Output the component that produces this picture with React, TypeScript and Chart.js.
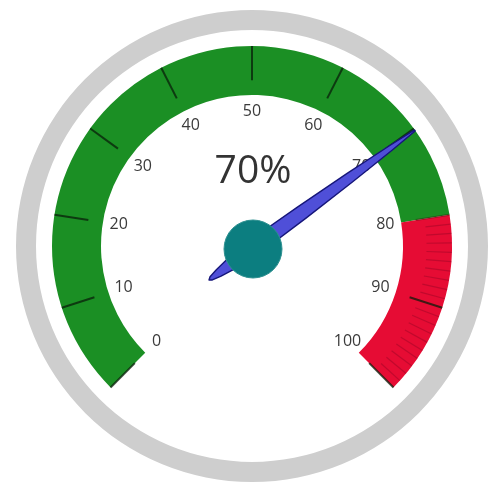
import React, { useEffect, useRef } from 'react';
import { Chart, registerables } from 'chart.js';

Chart.register(...registerables);

// ---- data ----
const RANGE_NAMES = ['Normal', 'Critical'];
const RANGE_VALUES = [80, 20];
const RANGE_COLORS = ['#1b8f24', '#e60c34'];
const GAUGE_VALUE = 70;
const VALUE_SUFFIX = '%';
const TICK_VALUES = [0, 10, 20, 30, 40, 50, 60, 70, 80, 90, 100];
const TICK_LABELS = ['0', '10', '20', '30', '40', '50', '60', '70', '80', '90', '100'];
const MINOR_STEP = 1;

export default function App() {
  const ref = useRef<HTMLCanvasElement>(null);

  useEffect(() => {
    if (!ref.current) return;
    const total = RANGE_VALUES.reduce((a, b) => a + b, 0);

    const gaugePlugin = {
      id: 'gaugeOverlay',
      afterDatasetsDraw(chart: any) {
        const meta = chart.getDatasetMeta(2);
        const arcs: any[] = meta.data;
        if (!arcs.length) return;
        const first = arcs[0];
        const cx = first.x;
        const cy = first.y;
        const rIn = first.innerRadius;
        const rOut = first.outerRadius;
        const band = rOut - rIn;
        const start = first.startAngle;
        const end = arcs[arcs.length - 1].endAngle;
        const ang = (v: number) => start + ((end - start) * v) / total;
        const ctx: CanvasRenderingContext2D = chart.ctx;
        ctx.save();

        // minor ticks (critical range)
        const critStart = RANGE_VALUES[0];
        ctx.strokeStyle = 'rgba(110,0,30,0.3)';
        ctx.lineWidth = 1.2;
        for (let v = critStart; v <= total; v += MINOR_STEP) {
          if (TICK_VALUES.includes(v)) continue;
          const a = ang(v);
          ctx.beginPath();
          ctx.moveTo(cx + Math.cos(a) * rOut, cy + Math.sin(a) * rOut);
          ctx.lineTo(cx + Math.cos(a) * (rOut - band * 0.52), cy + Math.sin(a) * (rOut - band * 0.52));
          ctx.stroke();
        }

        // major ticks
        ctx.lineWidth = 2;
        TICK_VALUES.forEach((v) => {
          const a = ang(v);
          ctx.strokeStyle = v === critStart ? 'rgba(60,10,10,0.35)' : 'rgba(10,30,10,0.75)';
          ctx.beginPath();
          ctx.moveTo(cx + Math.cos(a) * rOut, cy + Math.sin(a) * rOut);
          ctx.lineTo(cx + Math.cos(a) * (rOut - band * 0.7), cy + Math.sin(a) * (rOut - band * 0.7));
          ctx.stroke();
        });

        // labels
        ctx.fillStyle = '#3a3a3a';
        ctx.font = '16px "Open Sans", "Noto Sans", sans-serif';
        ctx.textAlign = 'center';
        ctx.textBaseline = 'middle';
        const rLab = rIn - 16;
        TICK_VALUES.forEach((v, i) => {
          const a = ang(v);
          ctx.fillText(TICK_LABELS[i], cx + Math.cos(a) * rLab, cy + Math.sin(a) * rLab);
        });

        // value text
        ctx.fillStyle = '#333333';
        ctx.font = '39px "Open Sans", "Noto Sans", sans-serif';
        ctx.fillText(`${GAUGE_VALUE}${VALUE_SUFFIX}`, cx + 1, cy - rIn * 0.49);

        // needle
        const a = ang(GAUGE_VALUE);
        const pcx = cx + 1;
        const pcy = cy + 2;
        const tip = rOut;
        const tail = rIn * 0.36;
        const profile: [number, number][] = [
          [tip, 0.6],
          [tip * 0.85, 2.6],
          [tip * 0.6, 5],
          [tip * 0.3, 7],
          [0, 8],
          [-tail * 0.45, 6.5],
          [-tail * 0.78, 4],
          [-tail * 0.95, 2],
        ];
        const pt = (r: number, w: number) => [
          pcx + Math.cos(a) * r - Math.sin(a) * w,
          pcy + Math.sin(a) * r + Math.cos(a) * w,
        ];
        ctx.beginPath();
        profile.forEach(([r, w], i) => {
          const p = pt(r, w);
          if (i === 0) ctx.moveTo(p[0], p[1]);
          else ctx.lineTo(p[0], p[1]);
        });
        const endP = pt(-tail, 0);
        ctx.lineTo(endP[0], endP[1]);
        for (let i = profile.length - 1; i >= 0; i--) {
          const [r, w] = profile[i];
          const p = pt(r, -w);
          ctx.lineTo(p[0], p[1]);
        }
        ctx.closePath();
        ctx.fillStyle = '#4f4fd8';
        ctx.fill();
        ctx.strokeStyle = '#16167a';
        ctx.lineWidth = 1.4;
        ctx.lineJoin = 'round';
        ctx.stroke();

        // hub
        ctx.beginPath();
        ctx.arc(pcx, pcy + 1, 29, 0, Math.PI * 2);
        ctx.fillStyle = '#0c7e80';
        ctx.fill();
        ctx.strokeStyle = '#2c8f8f';
        ctx.lineWidth = 1;
        ctx.stroke();

        ctx.restore();
      },
    };

    const chart = new Chart(ref.current, {
      type: 'doughnut',
      data: {
        labels: RANGE_NAMES,
        datasets: [
          {
            data: [total],
            backgroundColor: ['#cecece'],
            borderWidth: 0,
            weight: 20,
            rotation: 0,
            circumference: 360,
          } as any,
          {
            data: [total],
            backgroundColor: ['rgba(255,255,255,0)'],
            borderWidth: 0,
            weight: 16,
            rotation: 0,
            circumference: 360,
          } as any,
          {
            data: RANGE_VALUES,
            backgroundColor: RANGE_COLORS,
            borderWidth: 0,
            weight: 49,
            rotation: -135,
            circumference: 270,
          } as any,
        ],
      },
      options: {
        responsive: false,
        animation: false,
        events: [],
        cutout: 151,
        layout: { padding: { left: 16, right: 5, top: 10, bottom: 5 } },
        plugins: {
          legend: { display: false },
          tooltip: { enabled: false },
        },
      } as any,
      plugins: [gaugePlugin],
    });

    return () => chart.destroy();
  }, []);

  return (
    <div style={{ position: 'fixed', left: 0, top: 0, width: 493, height: 487, background: '#fff' }}>
      <canvas ref={ref} width={493} height={487} style={{ display: 'block' }} />
    </div>
  );
}
